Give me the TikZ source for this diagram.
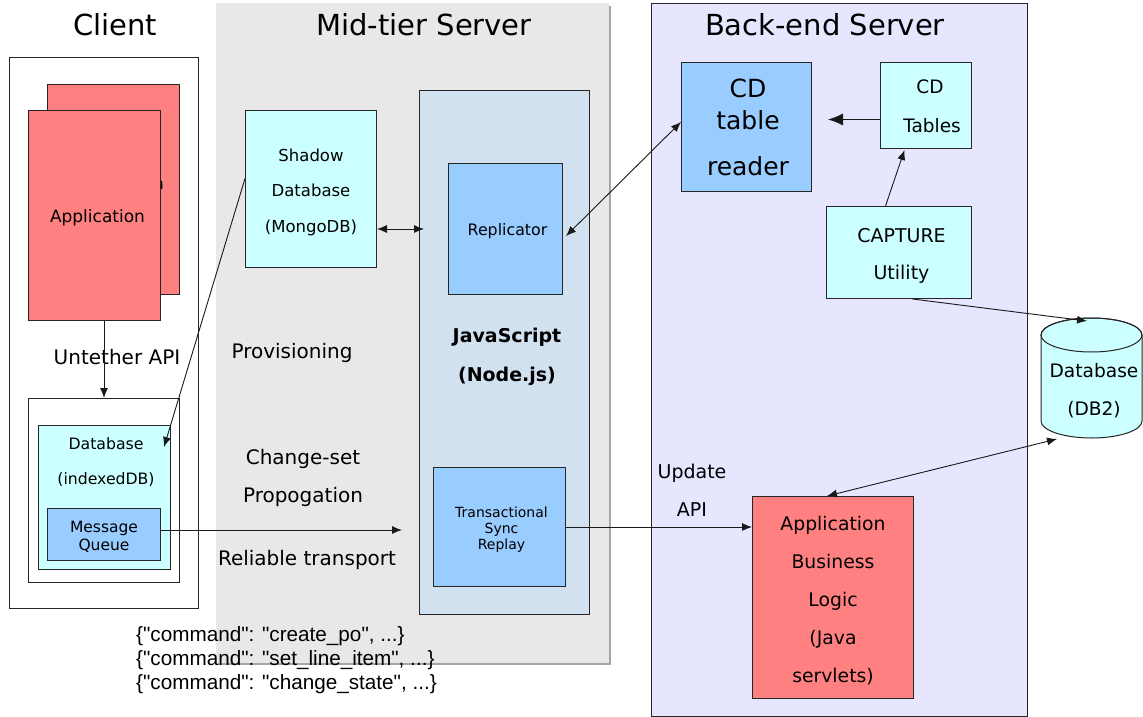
\documentclass[tikz,border=0pt]{standalone}
\usepackage{fontspec}
\setmainfont{DejaVu Sans}
\newfontfamily\arialf{Liberation Sans}
\usetikzlibrary{arrows.meta,calc}
\definecolor{salmon}{HTML}{FF8080}
\definecolor{cyanbox}{HTML}{CCFFFF}
\definecolor{bluebox}{HTML}{99CCFF}
\definecolor{jsblue}{HTML}{D2E1EF}
\definecolor{midgray}{HTML}{E8E8E8}
\definecolor{shadowgray}{HTML}{A6A6A6}
\definecolor{lav}{HTML}{E6E6FF}
\newcommand\fsz[2]{\fontsize{#1}{#2}\selectfont}
\begin{document}
\begin{tikzpicture}[x=1pt,y=-1pt,
 box/.style={draw=black!85,line width=1pt,inner sep=0pt,align=center},
 txt/.style={inner sep=0pt,align=center},
 lbl/.style={inner sep=0pt,align=center,font=\fsz{20}{37.5}},
 arr/.style={draw=black!90,line width=0.9pt,-{Latex[length=10pt,width=8pt]}},
 darr/.style={draw=black!90,line width=0.9pt,{Latex[length=10pt,width=8pt]}-{Latex[length=10pt,width=8pt]}},
 bigarr/.style={draw=black!90,line width=0.9pt,-{Latex[length=15pt,width=12pt]}},
 title/.style={inner sep=0pt,font=\fsz{29}{34}}]
\useasboundingbox (0,0) rectangle (1143,717);

% panels
\fill[shadowgray] (218,6) rectangle (611,665);
\fill[midgray] (216,3) rectangle (609,663);
\node[box, fill=lav, minimum width=376pt, minimum height=713pt, anchor=north west] (be) at (651,3) {};

% titles
\node[title] (tclient) at (115,25) {Client};
\node[title] (tmid) at (424,25) {Mid-tier Server};
\node[title] (tback) at (825,25) {Back-end Server};

% client
\node[box, fill=white, minimum width=189pt, minimum height=551pt, anchor=north west] (client) at (9,57) {};
\node[box, fill=salmon, minimum width=132pt, minimum height=210pt, anchor=north west] (appB) at (47,84) {};
\node[txt, font=\fsz{17}{20}] (appBt) at (116.3,185) {Application};
\node[box, fill=salmon, minimum width=132pt, minimum height=210pt, anchor=north west] (appF) at (28,110) {};
\node[txt, font=\fsz{17}{20}] (appFt) at ([xshift=3pt,yshift=-2pt]appF.center) {Application};
\node[lbl] (unt) at (117,357) {Untether API};
\node[box, fill=white, minimum width=151pt, minimum height=184pt, anchor=north west] (inner) at (28,398) {};
\node[box, fill=cyanbox, minimum width=132pt, minimum height=144pt, anchor=north west] (cdb) at (38,425) {};
\node[txt, font=\fsz{15.7}{35}] (cdbt) at (106,462.5) {Database\\(indexedDB)};
\node[box, fill=bluebox, minimum width=113pt, minimum height=52pt, anchor=north west] (mq) at (47,508) {};
\node[txt, font=\fsz{15.5}{18}] (mqt) at ([yshift=-2pt]mq.center) {Message\\Queue};

% mid-tier
\node[box, fill=cyanbox, minimum width=131pt, minimum height=157pt, anchor=north west] (shadow) at (245,110) {};
\node[txt, font=\fsz{16.5}{35.5}] (shadowt) at ([yshift=-3pt]shadow.center) {Shadow\\Database\\(MongoDB)};
\node[box, fill=jsblue, minimum width=170pt, minimum height=524pt, anchor=north west] (js) at (419,90) {};
\node[box, fill=bluebox, minimum width=114pt, minimum height=131pt, anchor=north west] (rep) at (448,163) {};
\node[txt, font=\fsz{15.8}{19}] (rept) at ([xshift=2pt,yshift=-2pt]rep.center) {Replicator};
\node[txt, font=\fsz{19}{39}\bfseries] (jst) at (507,357) {JavaScript\\(Node.js)};
\node[box, fill=bluebox, minimum width=132pt, minimum height=119pt, anchor=north west] (tsr) at (433,467) {};
\node[txt, font=\fsz{14}{16}] (tsrt) at ([xshift=2pt,yshift=-3pt]tsr.center) {Transactional\\Sync\\Replay};
\node[lbl] (prov) at (292,353) {Provisioning};
\node[lbl] (cs) at (303,478) {Change-set\\Propogation};
\node[lbl] (rel) at (307,560) {Reliable transport};

% back-end
\node[lbl, font=\fsz{19}{38}] (upd) at (692,490) {Update\\API};
\node[box, fill=bluebox, minimum width=130pt, minimum height=129pt, anchor=north west] (reader) at (681,62) {};
\node[txt, font=\fsz{25}{32}] (readert) at (748,127) {CD\\table\\[14pt]reader};
\node[box, fill=cyanbox, minimum width=91pt, minimum height=86pt, anchor=north west] (cdt) at (880,62) {};
\node[txt, font=\fsz{18.5}{39}] (cdtt) at ([xshift=4pt,yshift=-1pt]cdt.center) {CD\\\hspace*{4pt}Tables};
\node[box, fill=cyanbox, minimum width=145pt, minimum height=92pt, anchor=north west] (cap) at (826,206) {};
\node[txt, font=\fsz{19}{37}] (capt) at ([xshift=2.5pt,yshift=-3pt]cap.center) {CAPTURE\\Utility};
\node[box, fill=salmon, minimum width=161pt, minimum height=202pt, anchor=north west] (app) at (752,496) {};
\node[txt, font=\fsz{18.8}{37.8}] (appt) at ([yshift=-3pt]app.center) {Application\\Business\\Logic\\(Java\\servlets)};

% database cylinder
\path[fill=cyanbox, draw=black!85, line width=1pt] (1041,335) -- (1041,421)
  arc[start angle=180, end angle=0, x radius=50.5, y radius=17] -- (1142,335)
  arc[start angle=0, end angle=-180, x radius=50.5, y radius=17] -- cycle;
\draw[black!85, line width=1pt] (1091.5,335) ellipse[x radius=50.5, y radius=17];
\node[txt, font=\fsz{18.6}{38}] (db) at (1094,391) {Database\\(DB2)};
\coordinate (dbT) at (1087,321);
\coordinate (dbB) at (1057,439);

% commands
\node[inner sep=0pt, anchor=west, align=left, font=\arialf\fsz{20.7}{24}] (cmd) at (136,660)
 {\{"command": "create\_po", ...\}\\\{"command": "set\_line\_item", ...\}\\\{"command": "change\_state", ...\}};

% connectors
\coordinate (rt) at (402,530);
\draw[arr] (appF.south -| inner.north) -- (inner.north);
\draw[arr] ([yshift=10.5pt]shadow.west) -- ($(cdb.north east)+(-7,22)$);
\draw[darr] ($(shadow.east)+(0,40)$) -- ($(js.west |- shadow.east)+(5,40)$);
\draw[arr] (mq.east |- rt) -- (rt);
\draw[arr] (tsr.east) -- (tsr.east -| app.west);
\draw[darr] ($(rep.east)+(3,7)$) -- ($(reader.west)+(0,-5)$);
\draw[bigarr] ($(cdt.west)+(0,14)$) -- ($(reader.east |- cdt.west)+(16,14)$);
\draw[arr] ($(cap.north)+(-13.5,0)$) -- ($(cdt.south)+(-21.5,1)$);
\draw[arr] ($(cap.south)+(13.5,0)$) -- (dbT);
\draw[darr] (dbB) -- ($(app.north)+(-6,0)$);
\end{tikzpicture}
\end{document}
